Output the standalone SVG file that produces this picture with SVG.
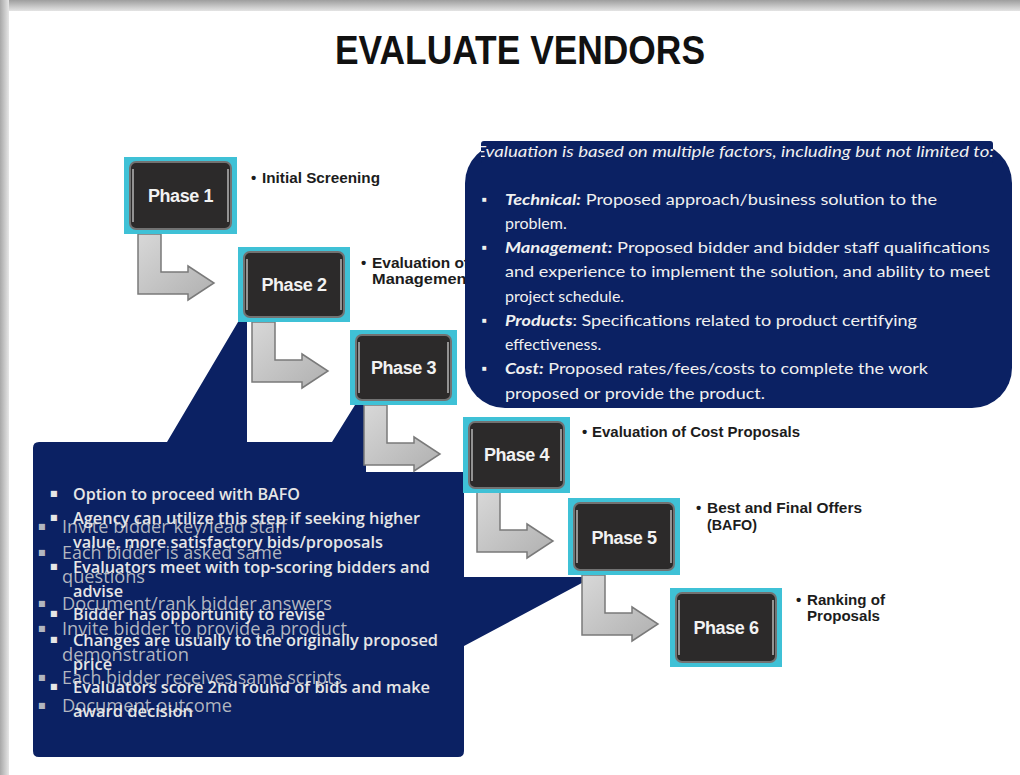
<svg xmlns="http://www.w3.org/2000/svg" xmlns:xlink="http://www.w3.org/1999/xlink" width="1020" height="775" viewBox="0 0 1020 775">
<defs>
<linearGradient id="gTop" x1="0" y1="0" x2="0" y2="1"><stop offset="0" stop-color="#9e9e9e"/><stop offset="1" stop-color="#e4e4e4"/></linearGradient>
<linearGradient id="gLeft" x1="0" y1="0" x2="1" y2="0"><stop offset="0" stop-color="#a8a8a8"/><stop offset="1" stop-color="#e6e6e6"/></linearGradient>
<linearGradient id="gArr" x1="0" y1="0" x2="1" y2="1"><stop offset="0" stop-color="#d8d8d8"/><stop offset="1" stop-color="#b0b0b0"/></linearGradient>
<path id="arr" d="M14,0 L37,0 L37,38 L64,38 L64,32 L90,49 L64,66 L64,60 L14,60 Z"/>
<clipPath id="hdrClip"><rect x="481" y="138" width="520" height="26"/></clipPath>
<style>
.hl{fill:#3fc1d6}
.pb{fill:#2c2a2a;stroke:#727272;stroke-width:2}
.bev{stroke:#b5b5b5;stroke-width:1.5}
.pt{font-family:"Liberation Sans",Arial,sans-serif;font-weight:bold;font-size:18px;fill:#f2f2f2;text-anchor:middle;letter-spacing:-0.4px}
.lbl{font-family:"Liberation Sans",Arial,sans-serif;font-weight:bold;font-size:15px;fill:#1c1c1c}
.navy{fill:#0b2163}
.ct{font-family:Lato,"Open Sans",sans-serif;font-size:16px;fill:#f0f0f0}
.ct .b{font-weight:bold;font-style:italic}
.bl{font-size:8px}
.hdr{font-family:Lato,"Open Sans",sans-serif;font-size:15px;font-style:italic;fill:#f0f0f0}
.s1{font-family:"Open Sans","DejaVu Sans",sans-serif;font-weight:600;font-size:15.5px;fill:#e6e6e6}
.s2{font-family:"Open Sans","DejaVu Sans",sans-serif;font-size:17.5px;fill:#d2d2d2;fill-opacity:0.85}
.arrow use{fill:url(#gArr);stroke:#7a7a7a;stroke-width:1.5}
</style>
</defs>

<!-- page -->
<rect width="1020" height="775" fill="#ffffff"/>
<rect x="0" y="0" width="1020" height="11" fill="url(#gTop)"/>
<rect x="0" y="0" width="9" height="775" fill="url(#gLeft)"/>
<rect x="9" y="11" width="1011" height="764" fill="#ffffff"/>

<text x="335" y="64" textLength="370" lengthAdjust="spacingAndGlyphs" style="font-family:'Liberation Sans',Arial,sans-serif;font-weight:bold;font-size:40px;fill:#111">EVALUATE VENDORS</text>

<!-- phase labels (under callouts) -->
<g id="labels" class="lbl">
<text x="251" y="183">•</text><text x="262" y="183" textLength="118" lengthAdjust="spacingAndGlyphs">Initial Screening</text>
<text x="361" y="268">•</text><text x="372" y="268" textLength="97" lengthAdjust="spacingAndGlyphs">Evaluation of</text>
<text x="372" y="284" textLength="100" lengthAdjust="spacingAndGlyphs">Management</text>
<text x="582" y="437">•</text><text x="592" y="437" textLength="208" lengthAdjust="spacingAndGlyphs">Evaluation of Cost Proposals</text>
<text x="696" y="513">•</text><text x="707" y="513" textLength="155" lengthAdjust="spacingAndGlyphs">Best and Final Offers</text>
<text x="707" y="530" textLength="50" lengthAdjust="spacingAndGlyphs">(BAFO)</text>
<text x="796" y="605">•</text><text x="807" y="605" textLength="78" lengthAdjust="spacingAndGlyphs">Ranking of</text>
<text x="807" y="621" textLength="73" lengthAdjust="spacingAndGlyphs">Proposals</text>
</g>

<!-- callout: evaluation factors -->
<g id="callout-factors">
<rect class="navy" x="465" y="143" width="547" height="265" rx="40"/>
<rect class="navy" x="481" y="141" width="512" height="22" rx="3"/>
<text class="hdr" x="476" y="157" clip-path="url(#hdrClip)" textLength="518" lengthAdjust="spacingAndGlyphs">Evaluation is based on multiple factors, including but not limited to:</text>
<g class="ct">
<text class="bl" x="482" y="202">■</text><text class="bl" x="482" y="250">■</text><text class="bl" x="482" y="323">■</text><text class="bl" x="482" y="371">■</text>
<text x="505" y="205" textLength="432" lengthAdjust="spacingAndGlyphs"><tspan class="b">Technical:</tspan> Proposed approach/business solution to the</text>
<text x="505" y="229">problem.</text>
<text x="505" y="253" textLength="485" lengthAdjust="spacingAndGlyphs"><tspan class="b">Management:</tspan> Proposed bidder and bidder staff qualifications</text>
<text x="505" y="277" textLength="485" lengthAdjust="spacingAndGlyphs">and experience to implement the solution, and ability to meet</text>
<text x="505" y="302">project schedule.</text>
<text x="505" y="326" textLength="412" lengthAdjust="spacingAndGlyphs"><tspan class="b">Products</tspan>: Specifications related to product certifying</text>
<text x="505" y="350">effectiveness.</text>
<text x="505" y="374" textLength="423" lengthAdjust="spacingAndGlyphs"><tspan class="b">Cost:</tspan> Proposed rates/fees/costs to complete the work</text>
<text x="505" y="399" textLength="260" lengthAdjust="spacingAndGlyphs">proposed or provide the product.</text>
</g>
</g>

<!-- callout: phase details -->
<g id="callout-details">
<path class="navy" d="M39,442 L167,442 L238,322 L247,322 L247,442 L332,442 L355,405 L366,405 L366,472 L464,472 L464,577 L593,577 L464,646 L464,751 Q464,757 458,757 L39,757 Q33,757 33,751 L33,448 Q33,442 39,442 Z"/>
<g class="s2">
<text class="bl" x="38" y="529">■</text><text class="bl" x="38" y="555">■</text><text class="bl" x="38" y="606">■</text><text class="bl" x="38" y="631">■</text><text class="bl" x="38" y="680">■</text><text class="bl" x="38" y="708">■</text>
<text x="62" y="533" textLength="225" lengthAdjust="spacingAndGlyphs">Invite bidder key/lead staff</text>
<text x="62" y="559" textLength="220" lengthAdjust="spacingAndGlyphs">Each bidder is asked same</text>
<text x="62" y="583" textLength="83" lengthAdjust="spacingAndGlyphs">questions</text>
<text x="62" y="610" textLength="270" lengthAdjust="spacingAndGlyphs">Document/rank bidder answers</text>
<text x="62" y="635" textLength="285" lengthAdjust="spacingAndGlyphs">Invite bidder to provide a product</text>
<text x="62" y="661" textLength="127" lengthAdjust="spacingAndGlyphs">demonstration</text>
<text x="62" y="684" textLength="280" lengthAdjust="spacingAndGlyphs">Each bidder receives same scripts</text>
<text x="62" y="712" textLength="170" lengthAdjust="spacingAndGlyphs">Document outcome</text>
</g>
<g class="s1">
<text class="bl" x="50" y="496">■</text><text class="bl" x="50" y="520">■</text><text class="bl" x="50" y="569">■</text><text class="bl" x="50" y="616">■</text><text class="bl" x="50" y="642">■</text><text class="bl" x="50" y="689">■</text>
<text x="73" y="500" textLength="227" lengthAdjust="spacingAndGlyphs">Option to proceed with BAFO</text>
<text x="73" y="524" textLength="347" lengthAdjust="spacingAndGlyphs">Agency can utilize this step if seeking higher</text>
<text x="73" y="548" textLength="310" lengthAdjust="spacingAndGlyphs">value, more satisfactory bids/proposals</text>
<text x="73" y="573" textLength="357" lengthAdjust="spacingAndGlyphs">Evaluators meet with top-scoring bidders and</text>
<text x="73" y="597" textLength="50" lengthAdjust="spacingAndGlyphs">advise</text>
<text x="73" y="620" textLength="252" lengthAdjust="spacingAndGlyphs">Bidder has opportunity to revise</text>
<text x="73" y="646" textLength="365" lengthAdjust="spacingAndGlyphs">Changes are usually to the originally proposed</text>
<text x="73" y="670" textLength="39" lengthAdjust="spacingAndGlyphs">price</text>
<text x="73" y="693" textLength="357" lengthAdjust="spacingAndGlyphs">Evaluators score 2nd round of bids and make</text>
<text x="73" y="717" textLength="120" lengthAdjust="spacingAndGlyphs">award decision</text>
</g>
</g>

<!-- connectors -->
<g id="connectors" class="arrow">
<use xlink:href="#arr" href="#arr" transform="translate(124,234)"/>
<use xlink:href="#arr" href="#arr" transform="translate(238,322)"/>
<use xlink:href="#arr" href="#arr" transform="translate(350,405)"/>
<use xlink:href="#arr" href="#arr" transform="translate(463,492)"/>
<use xlink:href="#arr" href="#arr" transform="translate(568,575)"/>
</g>

<!-- phase nodes -->
<g id="phase1" transform="translate(124,157)">
<rect class="hl" width="113" height="77"/>
<rect class="pb" x="6" y="5" width="101" height="67" rx="6"/>
<path class="bev" d="M9,12 V65 M104,12 V65"/>
<text class="pt" x="56.5" y="45">Phase 1</text>
</g>
<g id="phase2" transform="translate(238,247)">
<rect class="hl" width="112" height="75"/>
<rect class="pb" x="6" y="5" width="100" height="65" rx="6"/>
<path class="bev" d="M9,12 V63 M103,12 V63"/>
<text class="pt" x="56" y="44">Phase 2</text>
</g>
<g id="phase3" transform="translate(350,330)">
<rect class="hl" width="107" height="75"/>
<rect class="pb" x="6" y="5" width="95" height="65" rx="6"/>
<path class="bev" d="M9,12 V63 M98,12 V63"/>
<text class="pt" x="53.5" y="44">Phase 3</text>
</g>
<g id="phase4" transform="translate(463,417)">
<rect class="hl" width="107" height="76"/>
<rect class="pb" x="6" y="5" width="95" height="66" rx="6"/>
<path class="bev" d="M9,12 V64 M98,12 V64"/>
<text class="pt" x="53.5" y="44">Phase 4</text>
</g>
<g id="phase5" transform="translate(568,498)">
<rect class="hl" width="112" height="77"/>
<rect class="pb" x="6" y="5" width="100" height="67" rx="6"/>
<path class="bev" d="M9,12 V65 M103,12 V65"/>
<text class="pt" x="56" y="46">Phase 5</text>
</g>
<g id="phase6" transform="translate(670,588)">
<rect class="hl" width="112" height="79"/>
<rect class="pb" x="6" y="5" width="100" height="69" rx="6"/>
<path class="bev" d="M9,12 V67 M103,12 V67"/>
<text class="pt" x="56" y="46">Phase 6</text>
</g>
</svg>
